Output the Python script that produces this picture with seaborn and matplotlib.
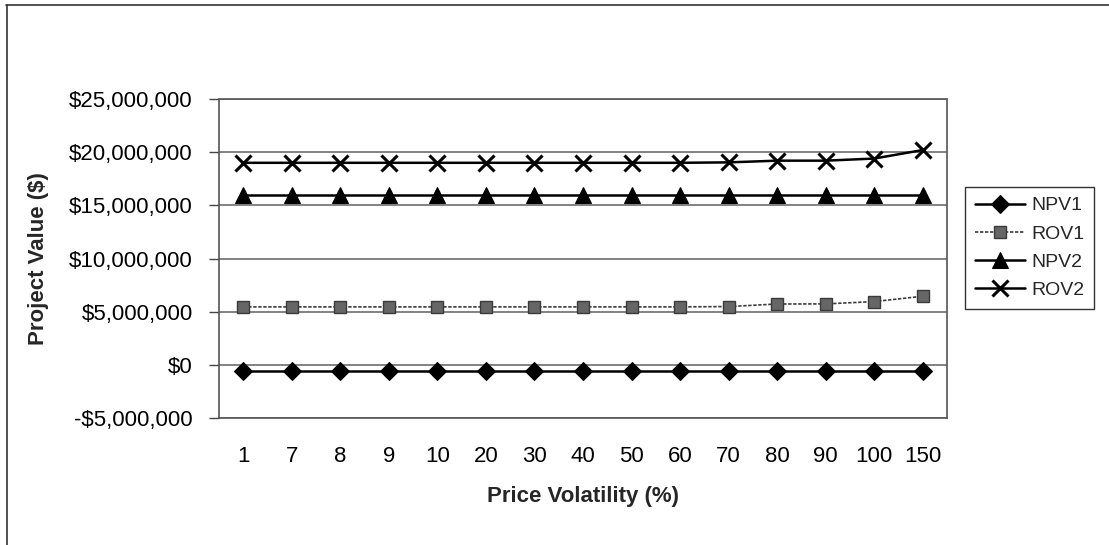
import matplotlib
matplotlib.use("Agg")
import matplotlib.pyplot as plt
import matplotlib.ticker as mticker
import seaborn as sns
import pandas as pd

# Price volatility scenarios (category axis)
volatility = ["1", "7", "8", "9", "10", "20", "30", "40", "50", "60", "70", "80", "90", "100", "150"]

# Project values in dollars
npv1 = [-600000] * 15
rov1 = [5450000, 5450000, 5450000, 5450000, 5450000, 5450000, 5450000, 5450000,
        5450000, 5450000, 5480000, 5720000, 5730000, 5950000, 6450000]
npv2 = [15950000] * 15
rov2 = [19000000, 19000000, 19000000, 19000000, 19000000, 19000000, 19000000, 19000000,
        19000000, 19000000, 19040000, 19200000, 19200000, 19400000, 20200000]

series_names = ["NPV1", "ROV1", "NPV2", "ROV2"]
series_values = [npv1, rov1, npv2, rov2]

y_ticks = [-5000000, 0, 5000000, 10000000, 15000000, 20000000, 25000000]

sns.set_theme(style="white")
plt.rcParams["font.family"] = ["Liberation Sans", "DejaVu Sans"]

df = pd.DataFrame({
    "pos": list(range(len(volatility))) * len(series_names),
    "series": [s for s in series_names for _ in volatility],
    "value": [v for vals in series_values for v in vals],
})

fig = plt.figure(figsize=(11.09, 5.45), dpi=100)
ax = fig.add_axes([219 / 1109, 1 - 418 / 545, (947 - 219) / 1109, (418 - 99) / 545])

styles = {
    "NPV1": dict(color="black", marker="D", markersize=9.5, linewidth=1.8, linestyle="-",
                 markerfacecolor="black", markeredgecolor="black"),
    "ROV1": dict(color="#3a3a3a", marker="s", markersize=9, linewidth=1.2, linestyle=(0, (2, 1)),
                 markerfacecolor="#666666", markeredgecolor="#3a3a3a", markeredgewidth=1.0),
    "NPV2": dict(color="black", marker="^", markersize=11, linewidth=1.8, linestyle="-",
                 markerfacecolor="black", markeredgecolor="black"),
    "ROV2": dict(color="black", marker="x", markersize=11, linewidth=1.8, linestyle="-",
                 markerfacecolor="black", markeredgecolor="black", markeredgewidth=2.2),
}

for name in series_names:
    sub = df[df["series"] == name]
    sns.lineplot(data=sub, x="pos", y="value", ax=ax, label=name, **styles[name])

ax.set_xlim(-0.5, len(volatility) - 0.5)
ax.set_ylim(-5000000, 25000000)
ax.set_xticks(range(len(volatility)))
ax.set_xticklabels(volatility)
ax.set_yticks(y_ticks)


def money(v, _pos):
    if v < 0:
        return "-${:,.0f}".format(-v)
    return "${:,.0f}".format(v)


ax.yaxis.set_major_formatter(mticker.FuncFormatter(money))

ax.grid(axis="y", color="#606060", linewidth=1.1, linestyle="-")
ax.set_axisbelow(True)
for side in ["left", "right", "top", "bottom"]:
    ax.spines[side].set_visible(True)
    ax.spines[side].set_color("#555555")
    ax.spines[side].set_linewidth(1.2)
    ax.spines[side].set_linestyle((0, (3, 1)))

ax.tick_params(axis="y", which="major", left=True, length=7, width=1, color="#444444",
               pad=12, labelsize=16, labelcolor="black")
ax.tick_params(axis="x", which="major", bottom=False, length=0, pad=20, labelsize=16,
               labelcolor="black")

ax.set_xlabel("Price Volatility (%)", fontsize=16, fontweight="bold", labelpad=14)
ax.set_ylabel("Project Value ($)", fontsize=16, fontweight="bold", labelpad=14)

leg = ax.legend(loc="center left", bbox_to_anchor=(965 / 1109, 1 - 248 / 545),
                bbox_transform=fig.transFigure, frameon=True, fancybox=False,
                fontsize=14, handlelength=2.6, handletextpad=0.3, labelspacing=0.55,
                borderpad=0.5, borderaxespad=0)
leg.get_frame().set_edgecolor("black")
leg.get_frame().set_linewidth(1.0)

# Chart area frame (top and left edges)
fig.add_artist(plt.Line2D([6 / 1109, 1.0], [1 - 5 / 545, 1 - 5 / 545],
                          transform=fig.transFigure, color="#333333", linewidth=1.2))
fig.add_artist(plt.Line2D([7 / 1109, 7 / 1109], [0.0, 1 - 5 / 545],
                          transform=fig.transFigure, color="#333333", linewidth=1.2))

fig.savefig("out.png", dpi=100, facecolor="white")
